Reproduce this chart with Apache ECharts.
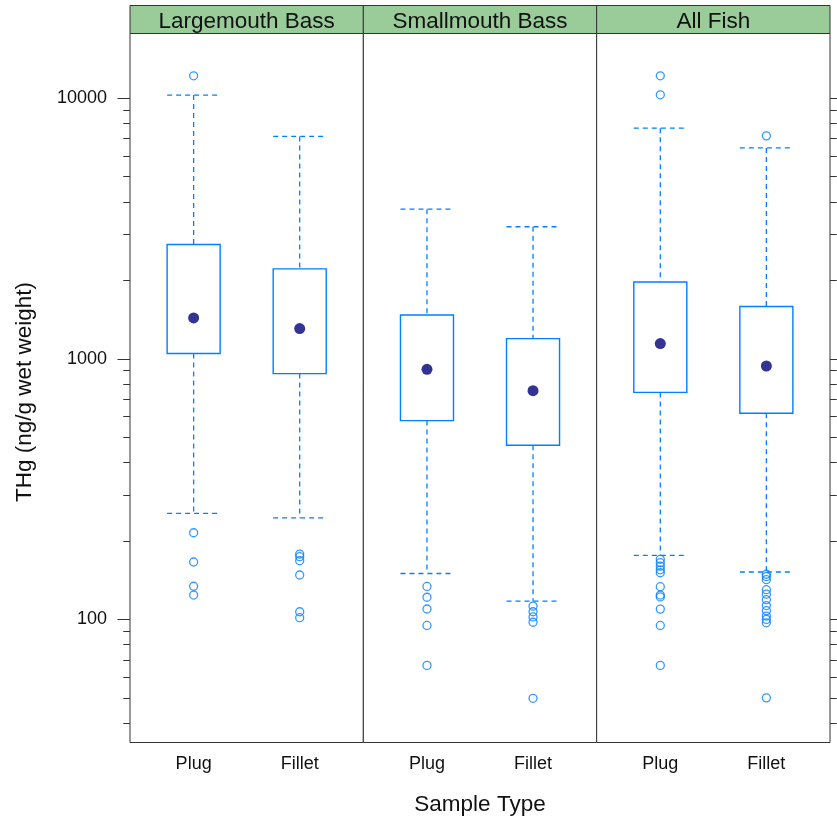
<!DOCTYPE html>
<html><head><meta charset="utf-8">
<script src="https://cdn.jsdelivr.net/npm/echarts@6/dist/echarts.min.js"></script>
<style>html,body{margin:0;padding:0;background:#fff}#c{width:837px;height:822px}</style>
</head><body><div id="c"></div>
<script>
// ---- data ----
const panelNames = ['Largemouth Bass', 'Smallmouth Bass', 'All Fish'];
const categories = ['Plug', 'Fillet'];
const xTitle = 'Sample Type';
const yTitle = 'THg (ng/g wet weight)';
// per panel: [Plug, Fillet]
const lowerWhisker = [[255, 245], [150, 117.5], [176, 152]];
const q1Values = [[1047, 877], [579, 466], [743, 618]];
const medianValues = [[1435, 1306], [911, 754], [1144, 938]];
const q3Values = [[2744, 2212], [1472, 1195], [1971, 1586]];
const upperWhisker = [[10270, 7130], [3750, 3210], [7670, 6440]];
const outliersLargemouth = [[12180, 215, 166, 134, 124], [178, 174, 168, 148, 107, 101.5]];
const outliersSmallmouth = [[133.8, 121.6, 109.6, 94.8, 66.6], [112.4, 107, 102.2, 97.5, 49.8]];
const outliersAllFish = [[12180, 10300, 170, 165, 160, 155, 151, 133.5, 124, 122, 109.5, 94.8, 66.6],
                         [7166, 149, 146, 142, 130, 125, 119, 113, 108, 103, 100, 97, 50]];
const majorTicks = [100, 1000, 10000];
const minorTicks = [40, 50, 60, 70, 80, 90, 200, 300, 400, 500, 600, 700, 800, 900,
                    2000, 3000, 4000, 5000, 6000, 7000, 8000, 9000];
const yMin = 33.7, yMax = 17700;

// ---- layout / style ----
const FONT = '"Liberation Sans", Arial, sans-serif';
const plotL = 130, plotR = 830, plotT = 33.5, plotB = 742.5;
const pw = (plotR - plotL) / 3;
const boxColor = '#0080ff';
const dotColor = '#000078';
const frameColor = '#333333';
const stripColor = '#99cc99';
const allOutliers = [outliersLargemouth, outliersSmallmouth, outliersAllFish];

const grids = [], xAxes = [], yAxes = [], series = [], graphics = [];
for (let i = 0; i < 3; i++) {
  const left = plotL + i * pw;
  grids.push({left: left, top: plotT, width: pw, height: plotB - plotT,
    show: true, borderColor: frameColor, borderWidth: 1, backgroundColor: '#fff'});
  xAxes.push({type: 'value', gridIndex: i, min: 0.4, max: 2.6,
    axisLine: {show: false}, axisTick: {show: false}, splitLine: {show: false},
    axisLabel: {customValues: [1, 2], formatter: v => categories[Math.round(v) - 1] || '',
      fontSize: 18, fontFamily: FONT, color: '#111', margin: 13}});
  const pos = i === 2 ? 'right' : 'left';
  yAxes.push({type: 'log', logBase: 10, gridIndex: i, min: yMin, max: yMax, position: pos,
    axisLine: {show: false}, splitLine: {show: false},
    axisTick: {show: i !== 1, length: 12.5, customValues: majorTicks, lineStyle: {color: frameColor, width: 1}},
    axisLabel: {show: i === 0, customValues: majorTicks, formatter: v => String(Math.round(v)),
      fontSize: 18, fontFamily: FONT, color: '#111', margin: 23}});
  yAxes.push({type: 'log', logBase: 10, gridIndex: i, min: yMin, max: yMax, position: pos,
    axisLine: {show: false}, splitLine: {show: false},
    axisTick: {show: i !== 1, length: 6.7, customValues: minorTicks, lineStyle: {color: frameColor, width: 1}},
    axisLabel: {show: false}});

  const boxData = categories.map((c, j) => [j + 1, lowerWhisker[i][j], q1Values[i][j],
    medianValues[i][j], q3Values[i][j], upperWhisker[i][j]]);
  series.push({type: 'custom', xAxisIndex: i, yAxisIndex: 2 * i, data: boxData, z: 2,
    renderItem: function (params, api) {
      const x = api.value(0);
      const lo = api.coord([x, api.value(1)]);
      const b1 = api.coord([x, api.value(2)]);
      const b3 = api.coord([x, api.value(4)]);
      const hi = api.coord([x, api.value(5)]);
      const xl = api.coord([x - 0.25, api.value(2)])[0];
      const xr = api.coord([x + 0.25, api.value(2)])[0];
      const dash = {stroke: boxColor, lineWidth: 1.3, lineDash: [5, 4], fill: null};
      return {type: 'group', children: [
        {type: 'line', shape: {x1: hi[0], y1: hi[1], x2: b3[0], y2: b3[1]}, style: dash},
        {type: 'line', shape: {x1: b1[0], y1: b1[1], x2: lo[0], y2: lo[1]}, style: dash},
        {type: 'line', shape: {x1: xl, y1: hi[1], x2: xr, y2: hi[1]}, style: dash},
        {type: 'line', shape: {x1: xl, y1: lo[1], x2: xr, y2: lo[1]}, style: dash},
        {type: 'rect', shape: {x: xl, y: b3[1], width: xr - xl, height: b1[1] - b3[1]},
          style: {stroke: boxColor, lineWidth: 1.4, fill: null}}
      ]};
    }});
  series.push({type: 'scatter', xAxisIndex: i, yAxisIndex: 2 * i, z: 3,
    data: categories.map((c, j) => [j + 1, medianValues[i][j]]),
    symbol: 'circle', symbolSize: 11, itemStyle: {color: dotColor}});
  const od = [];
  categories.forEach((c, j) => allOutliers[i][j].forEach(v => od.push([j + 1, v])));
  series.push({type: 'scatter', xAxisIndex: i, yAxisIndex: 2 * i, z: 3, data: od,
    symbol: 'circle', symbolSize: 8,
    itemStyle: {color: 'rgba(0,0,0,0)', borderColor: boxColor, borderWidth: 1.3}});

  graphics.push({type: 'rect', shape: {x: left, y: 5.5, width: pw, height: plotT - 5.5},
    style: {fill: stripColor, stroke: frameColor, lineWidth: 1}});
  graphics.push({type: 'text', x: left + pw / 2, y: 22,
    style: {text: panelNames[i], font: '22.5px ' + FONT, fill: '#111', align: 'center', verticalAlign: 'middle'}});
}
graphics.push({type: 'text', x: (plotL + plotR) / 2, y: 804.5,
  style: {text: xTitle, font: '22.5px ' + FONT, fill: '#111', align: 'center', verticalAlign: 'middle'}});
graphics.push({type: 'text', x: 25, y: 392, rotation: Math.PI / 2,
  style: {text: yTitle, font: '22.5px ' + FONT, fill: '#111', align: 'center', verticalAlign: 'middle'}});

const chart = echarts.init(document.getElementById('c'), null, {renderer: 'canvas'});
chart.setOption({
  animation: false,
  backgroundColor: '#fff',
  grid: grids, xAxis: xAxes, yAxis: yAxes, series: series, graphic: graphics
});
</script></body></html>
